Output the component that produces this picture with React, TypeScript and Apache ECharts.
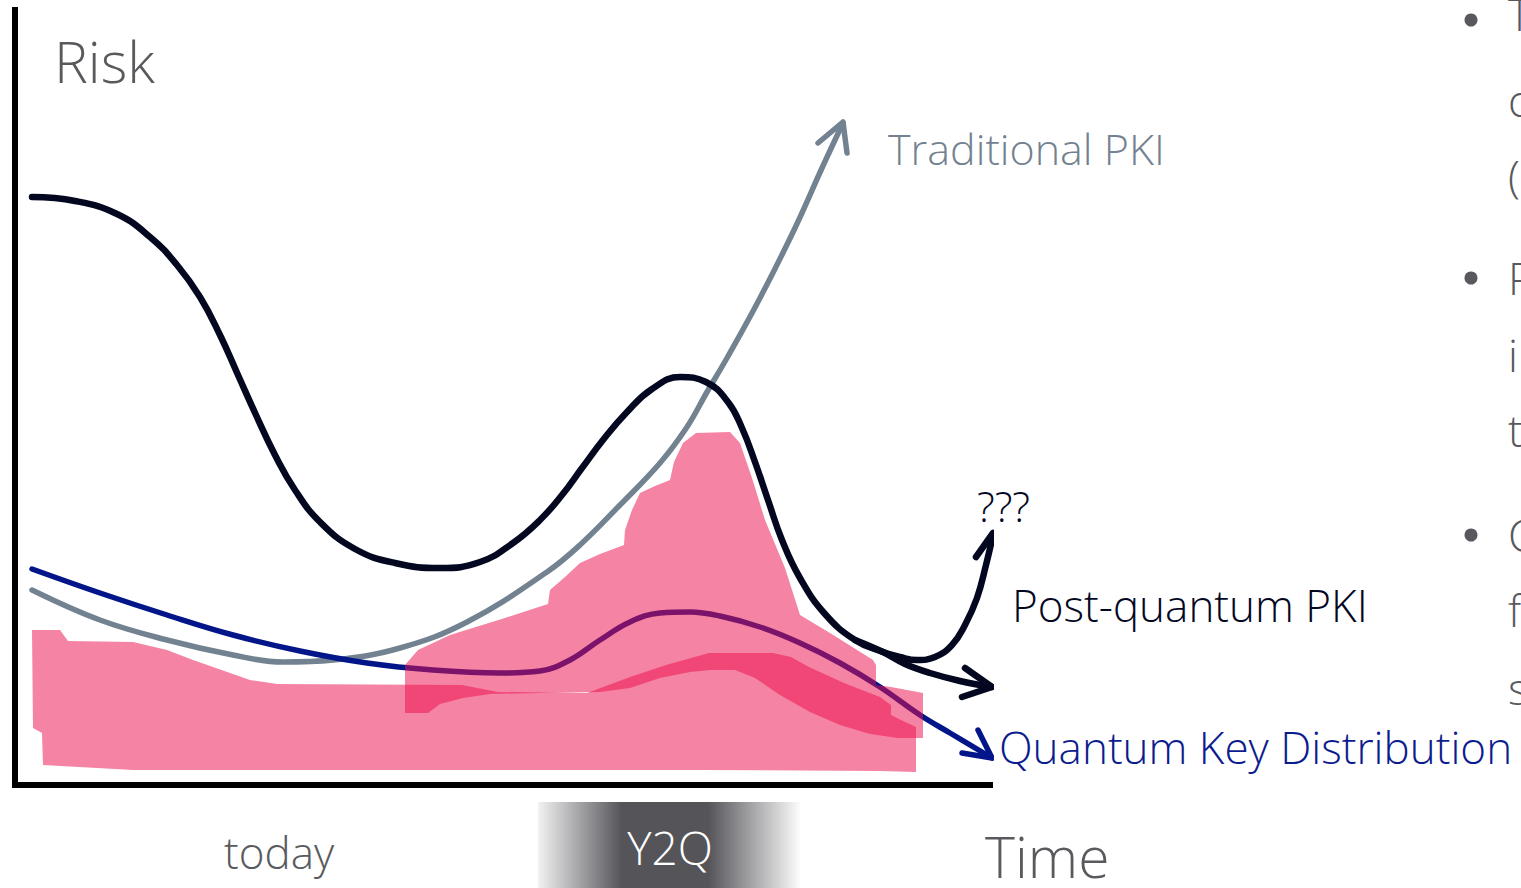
import { useEffect, useRef } from "react";
import * as echarts from "echarts";

// Time (x) and Risk (y) in chart units
const blackMain: number[][] = [
  [1.7, 58.8], [6.0, 58.4], [10.2, 57.1], [13.5, 54.8], [16.2, 52.0], [18.5, 48.8],
  [20.5, 45.0], [22.3, 41.0], [24.1, 37.0], [26.0, 33.0], [28.0, 29.5], [30.5, 26.3],
  [34.0, 23.6], [38.0, 22.2], [42.5, 21.7], [46.5, 22.3], [49.8, 24.2], [52.5, 26.5],
  [54.7, 29.0], [56.7, 31.7], [58.8, 34.5], [61.2, 37.3], [63.7, 39.6], [66.5, 40.8],
  [69.1, 40.3], [71.3, 38.3], [72.7, 35.7], [74.0, 32.3], [75.3, 28.5], [76.7, 24.5],
  [78.5, 20.7], [81.0, 17.1], [84.0, 14.5], [86.8, 13.3], [88.5, 12.8], [90.2, 12.5],
  [92.0, 12.8], [93.7, 14.0], [95.0, 16.0], [96.2, 18.7], [97.1, 22.0], [97.8, 25.0],
];
const blackLower: number[][] = [
  [84.0, 14.5], [86.8, 13.3], [89.0, 12.1], [91.5, 11.2], [94.5, 10.4], [97.7, 9.8],
];
const blackUpperHead: number[][] = [[96.1, 22.8], [97.8, 25.2], [98.8, 22.4]];
const blackLowerHead: number[][] = [[95.0, 11.7], [97.7, 9.8], [94.7, 8.8]];

const traditionalPki: number[][] = [
  [1.7, 19.5], [8.5, 16.5], [15.2, 14.5], [21.8, 13.0], [26.8, 12.3], [31.8, 12.5],
  [38.5, 13.7], [45.2, 16.3], [53.2, 21.3], [56.5, 24.0], [60.5, 28.0], [64.5, 32.2],
  [67.2, 35.8], [69.2, 39.3], [71.2, 42.7], [74.5, 48.7], [78.0, 55.7], [80.7, 61.7],
  [82.8, 66.2],
];
const traditionalHead: number[][] = [[80.3, 64.2], [82.8, 66.3], [83.2, 63.2]];

const qkd: number[][] = [
  [1.7, 21.6], [8.5, 19.2], [15.2, 17.0], [21.8, 15.0], [28.5, 13.4], [35.2, 12.2],
  [41.8, 11.5], [48.5, 11.2], [52.5, 11.4], [55.5, 12.5], [58.5, 14.5], [61.5, 16.3],
  [64.5, 17.2], [67.5, 17.3], [70.5, 16.9], [74.5, 15.8], [78.5, 14.2], [82.5, 12.2],
  [86.5, 9.8], [90.5, 7.0], [93.5, 5.2], [97.7, 2.7],
];
const qkdHead: number[][] = [[96.3, 5.5], [97.7, 2.7], [94.7, 3.2]];

const highlightLow: number[][] = [
  [1.7, 15.5], [4.5, 15.5], [5.3, 14.4], [11.8, 14.3], [15.2, 13.5], [17.8, 12.5],
  [23.5, 10.5], [26.2, 10.1], [44.7, 10.0], [48.3, 9.3], [57.2, 9.2], [61.5, 10.8],
  [65.1, 12.0], [69.4, 13.2], [75.8, 13.2], [77.6, 12.8], [79.4, 11.8], [82.9, 10.2],
  [86.5, 8.8], [87.6, 8.0], [87.6, 7.0], [88.6, 6.5], [90.1, 5.8], [90.1, 1.3],
  [86.5, 1.4], [68.5, 1.5], [48.5, 1.5], [28.5, 1.5], [11.8, 1.5], [2.8, 2.0],
  [2.7, 5.2], [1.8, 5.7],
];
const highlightPeak: number[][] = [
  [39.0, 7.2], [39.0, 12.0], [40.3, 13.5], [43.5, 15.0], [49.0, 16.7], [53.3, 18.1],
  [53.5, 19.5], [55.0, 20.8], [56.5, 22.2], [58.5, 23.1], [60.9, 24.0], [61.0, 25.5],
  [61.7, 27.5], [62.5, 29.2], [64.0, 29.9], [65.5, 30.5], [65.9, 32.3], [66.8, 34.2],
  [68.1, 35.2], [71.5, 35.3], [72.5, 34.2], [73.7, 30.7], [75.0, 26.5], [77.0, 21.7],
  [78.5, 17.0], [81.5, 15.2], [85.8, 12.5], [86.1, 12.0], [86.1, 10.0], [87.6, 9.8],
  [90.8, 9.2], [90.8, 4.7], [88.3, 4.7], [85.5, 5.1], [82.5, 6.0], [79.5, 7.3],
  [76.5, 9.0], [74.0, 10.7], [72.0, 11.5], [69.5, 11.5], [67.5, 11.3], [64.5, 10.7],
  [61.5, 9.7], [58.5, 9.3], [52.5, 9.2], [47.5, 9.1], [44.8, 8.7], [42.5, 8.1],
  [41.3, 7.2],
];

const FONT = "'Open Sans', 'Noto Sans', sans-serif";
const BLACK = "#03071f";
const GRAY = "#738290";
const NAVY = "#021689";
const PINK = "rgba(235,17,78,0.52)";
const TEXT_GRAY = "#5a5a5e";

const sideLetters = ["T", "o", "(", "P", "i", "t", "C", "f", "s"];

function lineSeries(data: number[][], color: string, width: number, smooth: number | boolean) {
  return {
    type: "line",
    data,
    smooth,
    symbol: "none",
    showSymbol: false,
    clip: false,
    z: 2,
    lineStyle: { color, width, cap: "round", join: "round" },
  };
}

function pinkSeries(pts: number[][]) {
  return {
    type: "custom",
    data: pts,
    encode: { x: 0, y: 1 },
    clip: false,
    z: 5,
    renderItem: (params: any, api: any) => {
      if (params.dataIndex !== 0) return null;
      return {
        type: "polygon",
        shape: { points: pts.map((p) => api.coord(p)) },
        style: { fill: PINK },
      };
    },
  };
}

export default function App() {
  const ref = useRef<HTMLDivElement>(null);
  useEffect(() => {
    const chart = echarts.init(ref.current!, null, { renderer: "svg" });
    const txt = (text: string, x: number, y: number, size: number, fill: string, align = "left") => ({
      type: "text",
      z: 10,
      style: {
        text, x, y, fill, font: `300 ${size}px ${FONT}`, lineHeight: size,
        align, verticalAlign: "middle",
      },
    });
    const sideLineY = [14, 100, 176, 278, 355, 430, 535, 610, 688];
    const option: any = {
      animation: false,
      backgroundColor: "#ffffff",
      grid: { left: 15, top: 10, right: 531, bottom: 103 },
      xAxis: {
        type: "value", min: 0, max: 97.5,
        axisLine: { show: true, lineStyle: { color: "#000", width: 6, cap: "square" } },
        axisTick: { show: false }, axisLabel: { show: false }, splitLine: { show: false },
      },
      yAxis: {
        type: "value", min: 0, max: 77.5,
        axisLine: { show: true, lineStyle: { color: "#000", width: 6, cap: "square" } },
        axisTick: { show: false }, axisLabel: { show: false }, splitLine: { show: false },
      },
      series: [
        lineSeries(traditionalPki, GRAY, 5.5, 0.4),
        lineSeries(traditionalHead, GRAY, 5.5, false),
        lineSeries(qkd, NAVY, 5.5, 0.4),
        lineSeries(qkdHead, NAVY, 5.5, false),
        lineSeries(blackMain, BLACK, 6.5, 0.45),
        lineSeries(blackLower, BLACK, 6.5, 0.4),
        lineSeries(blackUpperHead, BLACK, 6.5, false),
        lineSeries(blackLowerHead, BLACK, 6.5, false),
        pinkSeries(highlightLow),
        pinkSeries(highlightPeak),
      ],
      graphic: [
        {
          type: "rect", z: 1,
          shape: { x: 538, y: 802, width: 262, height: 86 },
          style: {
            fill: new echarts.graphic.LinearGradient(0, 0, 1, 0, [
              { offset: 0, color: "#f2f2f2" },
              { offset: 0.32, color: "#555459" },
              { offset: 0.65, color: "#555459" },
              { offset: 1, color: "#fcfcfc" },
            ]),
          },
        },
        txt("Risk", 54, 61, 57, TEXT_GRAY),
        txt("Traditional PKI", 888, 148, 43, GRAY),
        txt("???", 977, 505, 42, BLACK),
        txt("Post-quantum PKI", 1012, 605, 44, BLACK),
        txt("Quantum Key Distribution", 999, 747, 44, "#0c1c8e"),
        txt("today", 224, 852, 44, TEXT_GRAY),
        txt("Y2Q", 670, 847, 46, "#ffffff", "center"),
        txt("Time", 985, 856, 57, TEXT_GRAY),
        ...[20, 278, 535].map((cy) => ({
          type: "circle", z: 10, shape: { cx: 1471, cy, r: 6.5 }, style: { fill: "#58585e" },
        })),
        ...sideLetters.map((l, i) => txt(l, 1508, sideLineY[i], 44, "#58585e")),
      ],
    };
    chart.setOption(option);
    return () => chart.dispose();
  }, []);
  return (
    <div
      ref={ref}
      style={{ position: "fixed", left: 0, top: 0, width: 1521, height: 888, background: "#fff" }}
    />
  );
}
